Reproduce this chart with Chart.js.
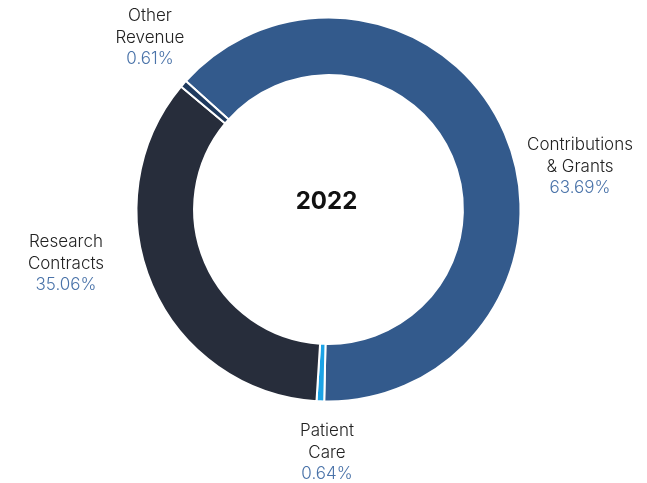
<!DOCTYPE html>
<html>
<head>
<meta charset="utf-8">
<script src="https://cdn.jsdelivr.net/npm/chart.js@4.4.0/dist/chart.umd.min.js"></script>
<style>
  html, body { margin: 0; padding: 0; background: #fff; }
  #wrap { width: 647px; height: 483px; position: relative; }
</style>
</head>
<body>
<div id="wrap"><canvas id="revenueChart" width="647" height="483"></canvas></div>
<script>
const categories = ['Contributions & Grants', 'Patient Care', 'Research Contracts', 'Other Revenue'];
const labelLines = [['Contributions', '& Grants'], ['Patient', 'Care'], ['Research', 'Contracts'], ['Other', 'Revenue']];
const shares = [63.69, 0.64, 35.06, 0.61];
const sliceColors = ['#335a8c', '#1ba3e6', '#272d3b', '#1f3a5e'];
const centerTitle = '2022';

// where each label block sits (center x, first line y)
const labelSpots = [[580, 145], [327, 431], [66, 242], [150, 16]];

const labelPlugin = {
  id: 'sliceLabels',
  afterDraw(chart) {
    const ctx = chart.ctx;
    const meta = chart.getDatasetMeta(0);
    ctx.save();
    ctx.textAlign = 'center';
    ctx.textBaseline = 'middle';
    categories.forEach((c, i) => {
      const [x, y] = labelSpots[i];
      ctx.font = '300 17px Inter';
      ctx.fillStyle = '#222222';
      labelLines[i].forEach((line, j) => ctx.fillText(line, x, y + j * 21.5));
      ctx.fillStyle = '#4a73a9';
      ctx.fillText(shares[i].toFixed(2) + '%', x, y + labelLines[i].length * 21.5);
    });
    const arc = meta.data[0];
    ctx.font = 'bold 24px Inter';
    ctx.fillStyle = '#111111';
    ctx.fillText(centerTitle, arc.x - 2, arc.y - 8);
    ctx.restore();
  }
};

new Chart(document.getElementById('revenueChart'), {
  type: 'doughnut',
  data: {
    labels: categories,
    datasets: [{
      data: shares,
      backgroundColor: sliceColors,
      borderColor: '#ffffff',
      borderWidth: 2
    }]
  },
  options: {
    responsive: false,
    animation: false,
    rotation: -48,
    cutout: '70%',
    layout: { padding: { top: 16.5, bottom: 80.5, left: 10, right: 0 } },
    plugins: {
      legend: { display: false },
      tooltip: { enabled: false }
    }
  },
  plugins: [labelPlugin]
});
</script>
</body>
</html>
